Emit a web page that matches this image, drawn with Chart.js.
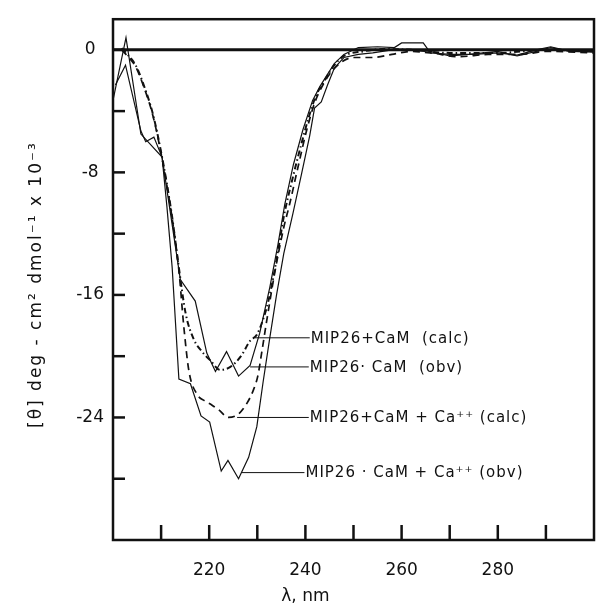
<!DOCTYPE html>
<html><head><meta charset="utf-8">
<script src="https://cdn.jsdelivr.net/npm/chart.js@4.4.1/dist/chart.umd.min.js"></script>
<style>html,body{margin:0;padding:0;background:#fff}#wrap{width:597px;height:611px}</style>
</head><body><div id="wrap"><canvas id="c" width="597" height="611"></canvas></div>
<script>
// ---- data (wavelength in nm, [theta] x 10^-3) ----
const lambdaCaMCalc = [201.8,203,204.7,206.5,208.3,210.2,212.2,213.6,215.1,216.8,218.5,220.3,222.3,224.4,226.6,228.5,229.9,231.2,232.3,233.6,234.7,235.5,237.1,239.2,240.6,242.2,244,246,248,252,256,262,270,280,290,300];
const thetaCaMCalc  = [0.1,-0.3,-1.0,-2.4,-4.2,-7.0,-10.7,-14.0,-17.2,-18.9,-19.7,-20.3,-20.9,-20.7,-20.0,-19.0,-18.6,-17.6,-16.4,-14.4,-12.4,-10.9,-8.7,-6.1,-4.5,-3.0,-2.0,-1.0,-0.4,-0.1,0.05,0,-0.2,-0.2,0,-0.1];

const lambdaCaMObv = [200.5,202.6,205.8,206.8,208.5,210.2,214,217.1,219.5,221.3,223.6,226.1,228.5,230.5,232.6,234.3,235.7,237.5,239.5,241.5,243,244.2,246,248,251,255,258.5,260,264.5,266,270,275,280,284,288,291,295,300];
const thetaCaMObv  = [-2.3,-1.0,-5.3,-6.0,-5.7,-7.0,-15.0,-16.4,-19.8,-21.0,-19.7,-21.3,-20.6,-18.5,-15.5,-12.7,-10.1,-7.5,-5.2,-3.3,-2.4,-1.8,-0.9,-0.3,0.15,0.2,0.15,0.45,0.45,-0.2,-0.3,-0.3,-0.2,-0.35,0,0.2,-0.1,-0.1];

const lambdaCaCalc = [201.8,203,204.7,206.5,208.3,210.2,212.2,213.7,214.7,215.8,217.5,219,220.6,222,224,226,227.8,229.2,230.1,231,231.9,233.6,235.5,236.7,238.5,240.3,242,243.8,245.5,247.5,250,254,258,262,266,272,278,285,290,300];
const thetaCaCalc  = [0,-0.4,-1.1,-2.5,-4.3,-7.1,-10.8,-14.4,-18.0,-21.0,-22.5,-22.9,-23.2,-23.5,-24.0,-23.8,-23.1,-22.2,-21.3,-19.6,-17.8,-14.6,-11.6,-10.1,-7.6,-5.2,-3.4,-2.2,-1.4,-0.8,-0.5,-0.5,-0.3,-0.1,-0.2,-0.45,-0.3,-0.3,-0.1,-0.2];

const lambdaCaObv = [200,202.7,205.8,210.2,211.2,212.3,213.7,216.1,218.3,220.1,222.5,223.9,226.1,228.2,229.9,231.2,232.5,234,235.5,237.4,239.2,240.9,241.9,243.3,244.6,246,248,251,254,258,262,266,270,274,280,284,288,291,295,300];
const thetaCaObv  = [-3.3,0.8,-5.5,-7.0,-10.2,-14.2,-21.5,-21.8,-23.9,-24.3,-27.5,-26.8,-28.0,-26.6,-24.6,-21.7,-19.0,-16.0,-13.3,-10.7,-8.1,-5.6,-3.8,-3.4,-2.3,-1.2,-0.5,-0.3,-0.2,0,0,-0.1,-0.4,-0.3,-0.1,-0.4,-0.1,0.15,-0.1,-0.15];

const xTickValues = [210,220,230,240,250,260,270,280,290];
const xTickLabels = [220,240,260,280];
const yTickValues = [-28,-24,-20,-16,-12,-8,-4,0];
const yTickLabels = [0,-8,-16,-24];

const seriesNames = ['MIP26+CaM  (calc)','MIP26· CaM  (obv)','MIP26+CaM + Ca⁺⁺ (calc)','MIP26 · CaM + Ca⁺⁺ (obv)'];
const labelTheta  = [-18.8,-20.7,-24.0,-27.6];
const leaderFrom  = [229.5,228.5,225.8,226.8];
const leaderTo    = [240.9,240.7,240.7,239.8];

const xTitle = 'λ, nm';
const yTitle = '[θ] deg - cm² dmol⁻¹ x 10⁻³';

function pts(xs, ys){ return xs.map((x,i)=>({x:x, y:ys[i]})); }

const INK = '#111';
Chart.defaults.font.family = "'DejaVu Sans', sans-serif";
Chart.defaults.color = INK;

const decor = {
  id:'decor',
  beforeDatasetsDraw(chart){
    const {ctx, chartArea:a, scales:{x,y}} = chart;
    ctx.save();
    ctx.strokeStyle = INK;
    ctx.lineWidth = 3;
    const y0 = y.getPixelForValue(0);
    ctx.beginPath(); ctx.moveTo(a.left,y0); ctx.lineTo(a.right,y0); ctx.stroke();
    ctx.lineWidth = 2.5;
    yTickValues.forEach(v=>{const py=y.getPixelForValue(v); ctx.beginPath(); ctx.moveTo(a.left,py); ctx.lineTo(a.left+12,py); ctx.stroke();});
    xTickValues.forEach(v=>{const px=x.getPixelForValue(v); ctx.beginPath(); ctx.moveTo(px,a.bottom); ctx.lineTo(px,a.bottom-15); ctx.stroke();});
    ctx.strokeRect(a.left,a.top,a.right-a.left,a.bottom-a.top);
    ctx.restore();
  },
  afterDatasetsDraw(chart){
    const {ctx, chartArea:a, scales:{x,y}} = chart;
    ctx.save();
    ctx.strokeStyle = INK; ctx.fillStyle = INK; ctx.lineWidth = 1;
    ctx.font = "15px 'DejaVu Sans'";
    try { ctx.letterSpacing = '1px'; } catch(e){}
    ctx.textAlign = 'left'; ctx.textBaseline = 'middle';
    seriesNames.forEach((t,i)=>{
      const py = y.getPixelForValue(labelTheta[i]);
      const x1 = x.getPixelForValue(leaderFrom[i]);
      const x2 = x.getPixelForValue(leaderTo[i]);
      ctx.beginPath(); ctx.moveTo(x1,py); ctx.lineTo(x2,py); ctx.stroke();
      ctx.fillText(t, x2+1, py+1);
    });
    // axis titles
    ctx.font = "17px 'DejaVu Sans'";
    ctx.textAlign = 'center';
    try { ctx.letterSpacing = '0px'; } catch(e){}
    ctx.fillText(xTitle, x.getPixelForValue(240), 597);
    ctx.save();
    ctx.translate(37, (a.top+a.bottom)/2 + 5);
    ctx.rotate(-Math.PI/2);
    try { ctx.letterSpacing = '2px'; } catch(e){}
    ctx.fillText(yTitle, 0, 0);
    ctx.restore();
    ctx.restore();
  }
};

new Chart(document.getElementById('c'), {
  type:'line',
  data:{ datasets:[
    {label:seriesNames[0], data:pts(lambdaCaMCalc,thetaCaMCalc), borderColor:INK, borderWidth:2, borderDash:[6,3,1.5,3], cubicInterpolationMode:'monotone', pointRadius:0, fill:false},
    {label:seriesNames[1], data:pts(lambdaCaMObv,thetaCaMObv), borderColor:INK, borderWidth:1.2, tension:0, pointRadius:0, fill:false},
    {label:seriesNames[2], data:pts(lambdaCaCalc,thetaCaCalc), borderColor:INK, borderWidth:1.7, borderDash:[7,5], cubicInterpolationMode:'monotone', pointRadius:0, fill:false},
    {label:seriesNames[3], data:pts(lambdaCaObv,thetaCaObv), borderColor:INK, borderWidth:1.2, tension:0, pointRadius:0, fill:false}
  ]},
  options:{
    responsive:false, animation:false, devicePixelRatio:1,
    layout:{padding:{top:14,right:3,left:0,bottom:0}},
    plugins:{legend:{display:false}, tooltip:{enabled:false}},
    scales:{
      x:{type:'linear', min:200, max:300,
        grid:{display:false, drawTicks:false}, border:{display:false},
        afterBuildTicks:s=>{ s.ticks = xTickValues.map(v=>({value:v})); },
        afterFit:s=>{ s.height = 71; },
        ticks:{font:{size:17}, padding:20, maxRotation:0, autoSkip:false,
          callback:v=> xTickLabels.includes(v) ? String(v) : ''}
      },
      y:{type:'linear', min:-32, max:2,
        grid:{display:false, drawTicks:false}, border:{display:false},
        afterBuildTicks:s=>{ s.ticks = yTickValues.map(v=>({value:v})); },
        afterFit:s=>{ s.width = 113; },
        ticks:{font:{size:17}, padding:9, crossAlign:'center', autoSkip:false,
          callback:v=> yTickLabels.includes(v) ? String(v) : ''}
      }
    }
  },
  plugins:[decor]
});
</script></body></html>
